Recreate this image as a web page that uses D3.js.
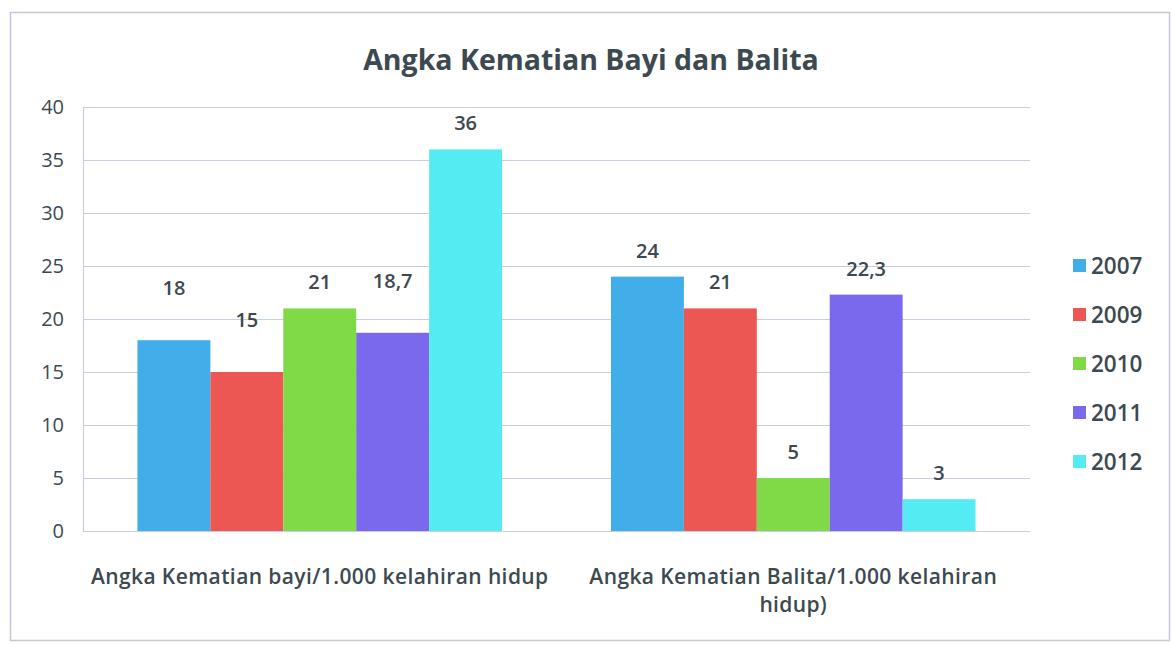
<!DOCTYPE html>
<html>
<head>
<meta charset="utf-8">
<script src="https://cdn.jsdelivr.net/npm/d3@7"></script>
<style>
  body { margin: 0; background: #fff; }
  text { font-family: "Open Sans", Lato, sans-serif; fill: #3d4950; }
</style>
</head>
<body>
<script>
// data
var categories = [
  ["Angka Kematian bayi/1.000 kelahiran hidup"],
  ["Angka Kematian Balita/1.000 kelahiran", "hidup)"]
];
var years = ["2007", "2009", "2010", "2011", "2012"];
var values = [
  [18, 15, 21, 18.7, 36],
  [24, 21, 5, 22.3, 3]
];
var yTicks = [0, 5, 10, 15, 20, 25, 30, 35, 40];
var colors = ["#41aeea", "#ec5753", "#80d946", "#7a69ec", "#55ebf3"];
// labels that were lifted in the original to avoid overlap
var labelLift = [
  [26, 26, 0, 26, 0],
  [0, 0, 0, 0, 0]
];

var width = 1173, height = 645;
var margin = { left: 83, right: 143, top: 107, bottom: 114 };

var svg = d3.select("body").append("svg")
  .attr("width", width)
  .attr("height", height);

svg.append("rect")
  .attr("x", 10.5).attr("y", 12.5)
  .attr("width", 1159).attr("height", 628)
  .attr("fill", "#fff")
  .attr("stroke", "#c3c7de")
  .attr("stroke-width", 1.5);

var x0 = d3.scaleBand()
  .domain(d3.range(categories.length))
  .range([margin.left, width - margin.right])
  .paddingInner(0.23)
  .paddingOuter(0.115);

var x1 = d3.scaleBand()
  .domain(d3.range(years.length))
  .range([0, x0.bandwidth()]);

var y = d3.scaleLinear()
  .domain([0, 40])
  .range([height - margin.bottom, margin.top]);

// grid
svg.append("g")
  .selectAll("line")
  .data(yTicks)
  .join("line")
  .attr("x1", margin.left)
  .attr("x2", width - margin.right)
  .attr("y1", function(d) { return Math.round(y(d)) + 0.5; })
  .attr("y2", function(d) { return Math.round(y(d)) + 0.5; })
  .attr("stroke", "#c9cde0")
  .attr("stroke-width", 1.2);

svg.append("line")
  .attr("x1", margin.left + 0.5).attr("x2", margin.left + 0.5)
  .attr("y1", y(40)).attr("y2", y(0))
  .attr("stroke", "#c9cde0")
  .attr("stroke-width", 1.2);

// y axis labels
var yAxis = d3.axisLeft(y).tickValues(yTicks).tickSize(0).tickPadding(19);
var ya = svg.append("g")
  .attr("transform", "translate(" + margin.left + ",0)")
  .call(yAxis);
ya.select(".domain").remove();
ya.selectAll("text")
  .style("font-size", "20px")
  .style("font-weight", "500")
  .style("font-family", "'Open Sans', Lato, sans-serif")
  .attr("fill", "#3d4950");

// bars
var groups = svg.append("g")
  .selectAll("g")
  .data(values)
  .join("g")
  .attr("transform", function(d, i) { return "translate(" + x0(i) + ",0)"; });

groups.selectAll("rect")
  .data(function(d) { return d; })
  .join("rect")
  .attr("x", function(d, j) { return x1(j); })
  .attr("y", function(d) { return y(d); })
  .attr("width", x1.bandwidth())
  .attr("height", function(d) { return y(0) - y(d); })
  .attr("fill", function(d, j) { return colors[j]; });

groups.each(function(row, i) {
  d3.select(this).selectAll("text.val")
    .data(row)
    .join("text")
    .attr("class", "val")
    .attr("x", function(d, j) { return x1(j) + x1.bandwidth() / 2; })
    .attr("y", function(d, j) { return y(d) - 19 - labelLift[i][j]; })
    .attr("text-anchor", "middle")
    .style("font-size", "20px")
    .style("font-weight", "600")
    .text(function(d) { return String(d).replace(".", ","); });
});

// category labels
svg.append("g")
  .selectAll("text")
  .data(categories)
  .join("text")
  .attr("text-anchor", "middle")
  .attr("x", function(d, i) { return x0(i) + x0.bandwidth() / 2; })
  .attr("y", 584)
  .style("font-size", "21px")
  .style("font-weight", "600")
  .style("letter-spacing", "0.4px")
  .each(function(lines) {
    var t = d3.select(this);
    lines.forEach(function(l, k) {
      t.append("tspan")
        .attr("x", t.attr("x"))
        .attr("dy", k === 0 ? 0 : 28)
        .text(l);
    });
  });

// title
svg.append("text")
  .attr("x", 591)
  .attr("y", 70)
  .attr("text-anchor", "middle")
  .style("font-size", "28.5px")
  .style("font-weight", "700")
  .attr("fill", "#2f3b42")
  .text("Angka Kematian Bayi dan Balita");

// legend
var legend = svg.append("g")
  .selectAll("g")
  .data(years)
  .join("g")
  .attr("transform", function(d, i) { return "translate(1073," + (266 + i * 49) + ")"; });

legend.append("rect")
  .attr("x", 0).attr("y", -7)
  .attr("width", 13).attr("height", 13)
  .attr("fill", function(d, i) { return colors[i]; });

legend.append("text")
  .attr("x", 18)
  .attr("y", 8)
  .style("font-size", "22.5px")
  .style("font-weight", "600")
  .text(function(d) { return d; });
</script>
</body>
</html>
